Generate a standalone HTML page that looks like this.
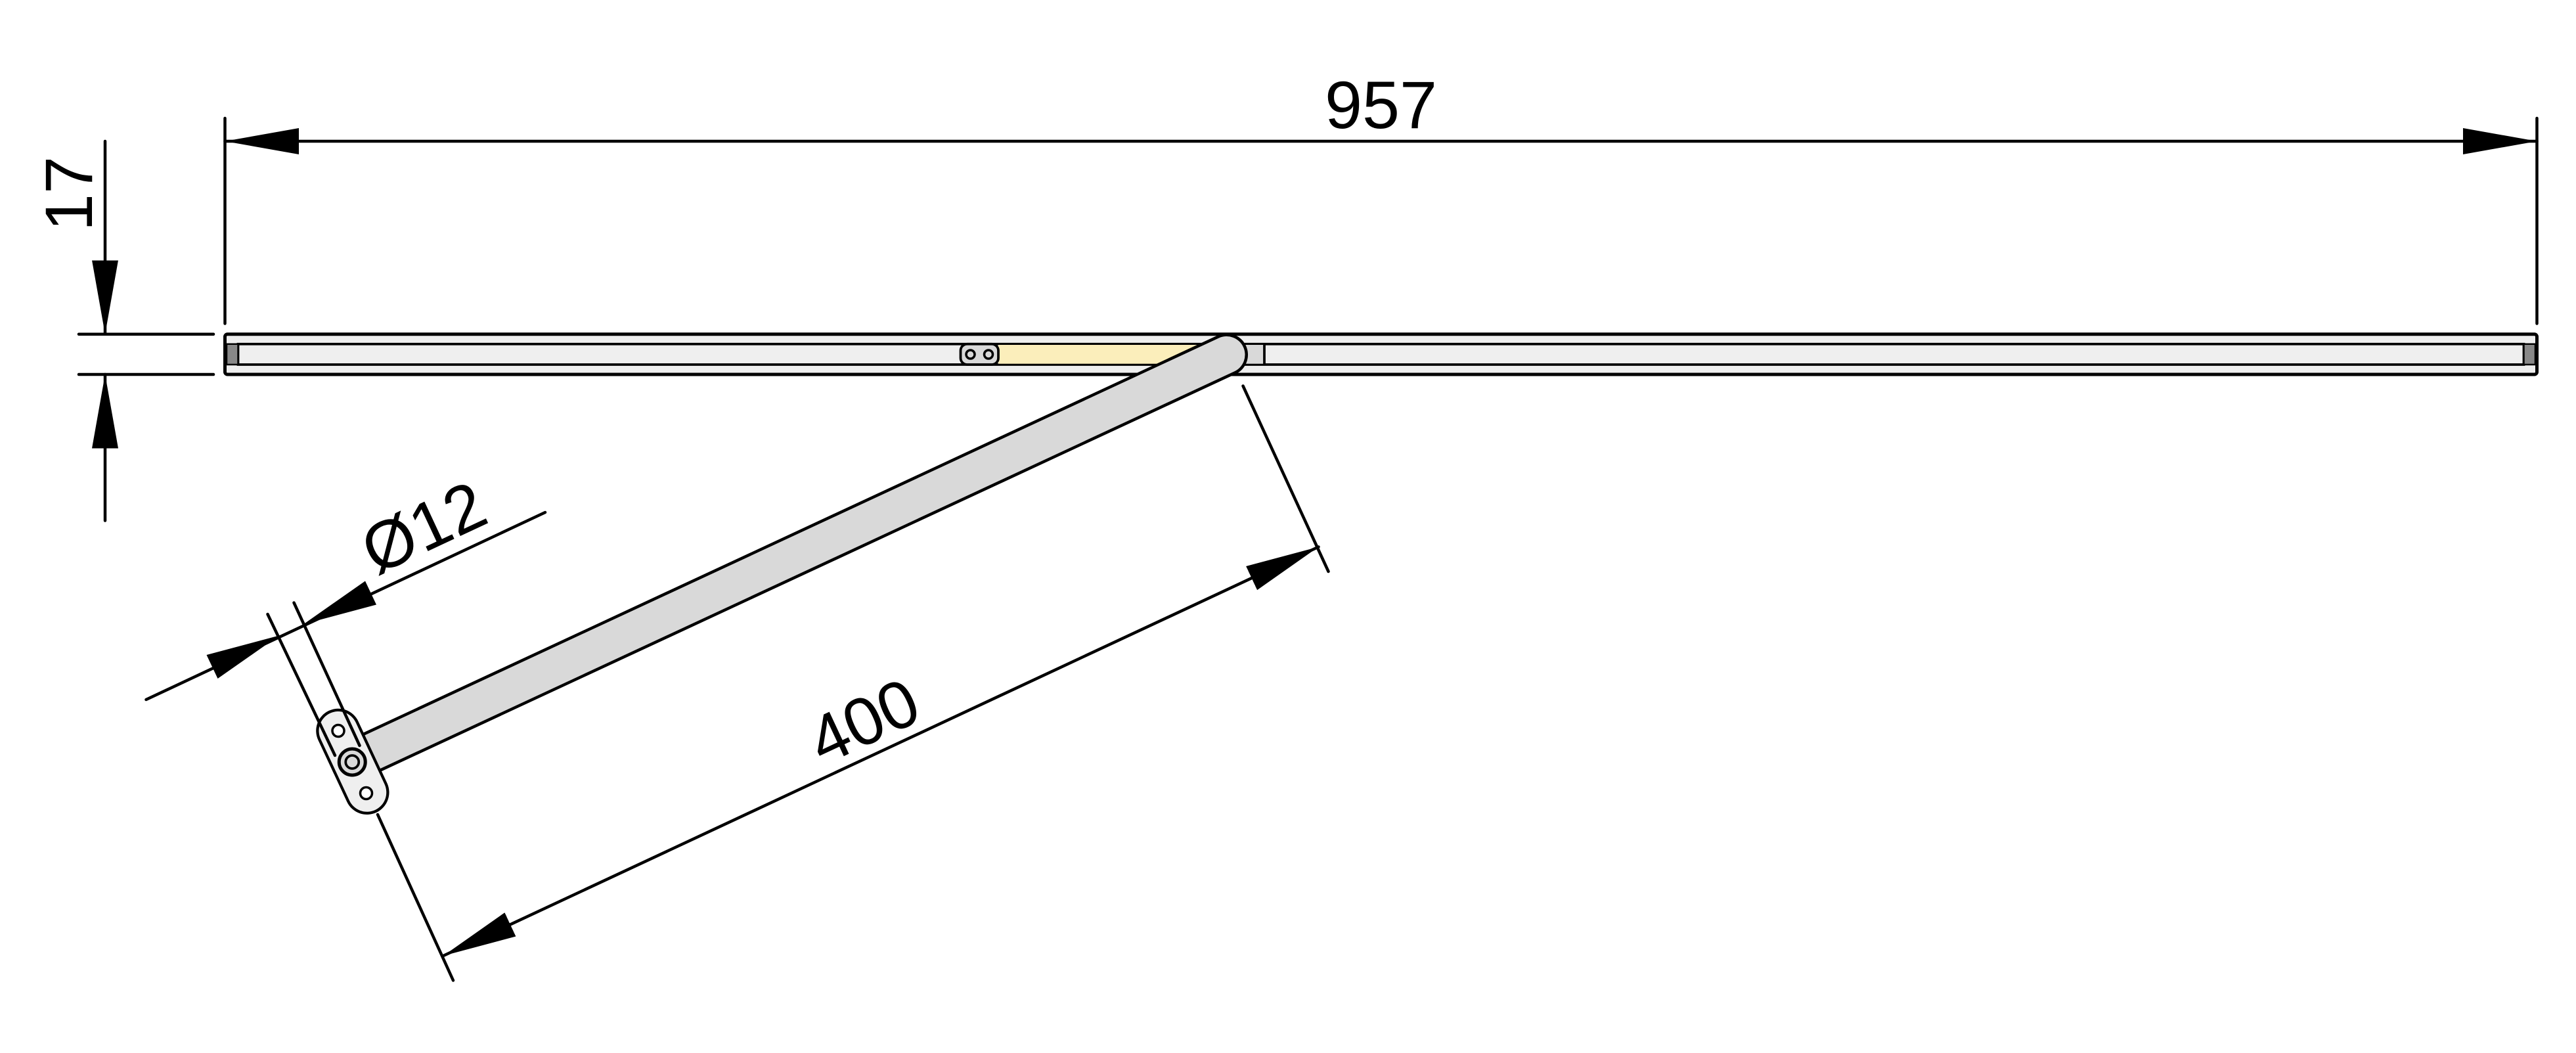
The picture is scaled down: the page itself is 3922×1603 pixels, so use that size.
<!DOCTYPE html>
<html><head><meta charset="utf-8"><style>html,body{margin:0;padding:0;background:#fff}svg{display:block}</style></head>
<body>
<svg width="3922" height="1603" viewBox="0 0 1568.8 641.2" xmlns="http://www.w3.org/2000/svg">
<defs>
<marker id="ar" markerUnits="userSpaceOnUse" markerWidth="46" markerHeight="18" refX="45" refY="8" orient="auto-start-reverse" viewBox="0 0 46 16">
<polygon points="0,0 45,8 0,16" fill="#000"/>
</marker>
</defs>
<g stroke="#000" stroke-width="1.8" fill="none" stroke-linecap="round">
<line x1="137" y1="72" x2="137" y2="197"/>
<line x1="1545" y1="72" x2="1545" y2="197"/>
<line x1="137" y1="86" x2="1545" y2="86" marker-start="url(#ar)" marker-end="url(#ar)"/>
<line x1="48" y1="203.5" x2="130" y2="203.5"/>
<line x1="48" y1="228" x2="130" y2="228"/>
<line x1="64" y1="86" x2="64" y2="203.5" marker-end="url(#ar)"/>
<line x1="64" y1="317" x2="64" y2="228" marker-end="url(#ar)"/>
<line x1="757" y1="235" x2="809" y2="348"/>
<line x1="230" y1="496" x2="276" y2="597"/>
<line x1="270" y1="582" x2="803" y2="333" marker-start="url(#ar)" marker-end="url(#ar)"/>
<line x1="89" y1="426" x2="332" y2="312"/>
</g>
<polygon points="170,387 132.6,413.2 125.8,398.8" fill="#000"/>
<polygon points="185,380 229.2,368.2 222.4,353.8" fill="#000"/>

<rect x="137" y="203.5" width="1408" height="24.5" rx="1.5" fill="#efefef" stroke="#000" stroke-width="2"/>
<rect x="145" y="209.5" width="1392" height="12.5" fill="#efefef" stroke="#000" stroke-width="1.5"/>
<rect x="138" y="209.5" width="7" height="12.5" fill="#888" stroke="#000" stroke-width="1"/>
<rect x="1537" y="209.5" width="7" height="12.5" fill="#888" stroke="#000" stroke-width="1"/>
<rect x="608" y="210" width="130" height="11.5" fill="#fbeebb"/>
<rect x="738" y="210" width="32" height="11.5" fill="#d9d9d9"/>
<line x1="770" y1="209.5" x2="770" y2="222" stroke="#000" stroke-width="1.5"/>
<rect x="585" y="209.5" width="23" height="12.5" rx="4" fill="#d9d9d9" stroke="#000" stroke-width="1.5"/>
<circle cx="591" cy="215.8" r="2.6" fill="#d9d9d9" stroke="#000" stroke-width="1.4"/>
<circle cx="602" cy="215.8" r="2.6" fill="#d9d9d9" stroke="#000" stroke-width="1.4"/>

<line x1="218" y1="462" x2="747" y2="216" stroke="#000" stroke-width="26" stroke-linecap="round"/>
<line x1="218" y1="462" x2="747" y2="216" stroke="#d9d9d9" stroke-width="22.4" stroke-linecap="round"/>

<line x1="206" y1="445" x2="223.5" y2="482.5" stroke="#000" stroke-width="27" stroke-linecap="round"/>
<line x1="206" y1="445" x2="223.5" y2="482.5" stroke="#efefef" stroke-width="23.6" stroke-linecap="round"/>
<g stroke="#000" stroke-width="1.8" stroke-linecap="round">
<line x1="163" y1="374" x2="204" y2="460"/>
<line x1="179" y1="367" x2="219" y2="454"/>
</g>
<circle cx="206" cy="445" r="3.6" fill="#fff" stroke="#000" stroke-width="1.4"/>
<circle cx="214.5" cy="464" r="8" fill="#d9d9d9" stroke="#000" stroke-width="2"/>
<circle cx="214.5" cy="464" r="4" fill="#d9d9d9" stroke="#000" stroke-width="1.5"/>
<circle cx="223" cy="483" r="3.6" fill="#fff" stroke="#000" stroke-width="1.4"/>

<g font-family="Liberation Sans, sans-serif" font-size="41" fill="#000">
<text x="841" y="78" text-anchor="middle">957</text>
<text transform="translate(56,118) rotate(-90)" text-anchor="middle">17</text>
<text transform="translate(532,452) rotate(-25)" text-anchor="middle">400</text>
<text transform="translate(264,334) rotate(-25)" text-anchor="middle">Ø12</text>
</g>
</svg>
</body></html>
